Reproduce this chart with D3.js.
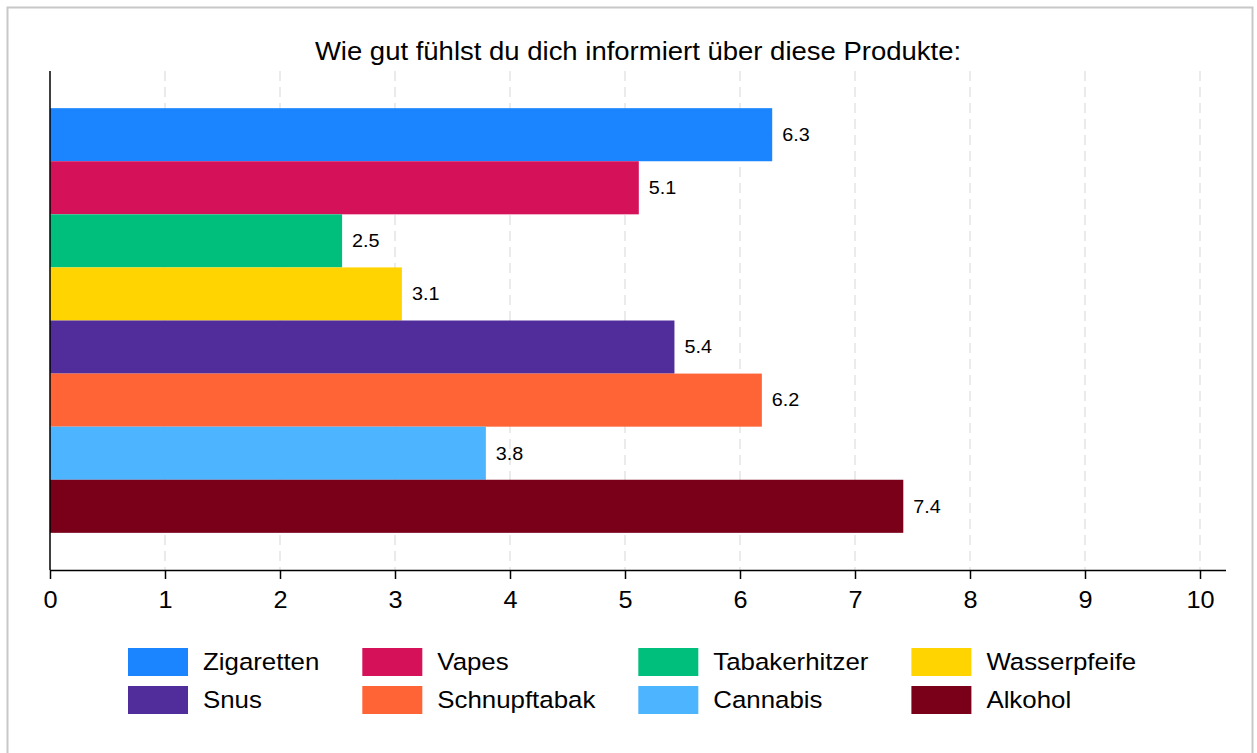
<!DOCTYPE html>
<html>
<head>
<meta charset="utf-8">
<script src="https://cdn.jsdelivr.net/npm/d3@7"></script>
<style>
  body { margin: 0; background: #fff; }
  svg { display: block; font-family: "Liberation Sans", Arial, sans-serif; }
</style>
</head>
<body>
<svg id="main-svg" width="1257" height="753"></svg>
<script>
// data
let products = ["Zigaretten", "Vapes", "Tabakerhitzer", "Wasserpfeife", "Snus", "Schnupftabak", "Cannabis", "Alkohol"];
let scores = [6.28, 5.12, 2.54, 3.06, 5.43, 6.19, 3.79, 7.42];
let colors = ["#1a85ff", "#d41159", "#00bf7d", "#ffd400", "#512d9b", "#ff6437", "#4db4ff", "#7a0019"];
let xTicks = [0, 1, 2, 3, 4, 5, 6, 7, 8, 9, 10];
let title = "Wie gut fühlst du dich informiert über diese Produkte:";

let svg = d3.select("#main-svg");
let stretch = 1.1; // text in the original is a little wider than Liberation Sans

// outer frame
svg.append("rect")
    .attr("x", 7.5).attr("y", 7.5)
    .attr("width", 1245).attr("height", 770)
    .attr("fill", "none")
    .attr("stroke", "#c8c8c8")
    .attr("stroke-width", 2);

let plotLeft = 50, plotRight = 1226, plotTop = 71, plotBottom = 570;

let x = d3.scaleLinear().domain([0, 10]).range([plotLeft, plotLeft + 1150]);
let y = d3.scaleBand().domain(products).range([plotTop, plotBottom]).paddingInner(0).paddingOuter(0.7);

// grid lines
svg.append("g")
    .selectAll("line")
    .data(xTicks.filter(d => d > 0))
    .enter().append("line")
    .attr("x1", d => x(d)).attr("x2", d => x(d))
    .attr("y1", plotTop).attr("y2", plotBottom)
    .attr("stroke", "#ebebeb")
    .attr("stroke-width", 2)
    .attr("stroke-dasharray", "10,6");

// bars
svg.append("g")
    .selectAll("rect")
    .data(products)
    .enter().append("rect")
    .attr("x", x(0))
    .attr("y", d => y(d))
    .attr("width", (d, i) => x(scores[i]) - x(0))
    .attr("height", y.bandwidth())
    .attr("fill", (d, i) => colors[i]);

// value labels
svg.append("g")
    .selectAll("text")
    .data(products)
    .enter().append("text")
    .attr("transform", (d, i) => "translate(" + (x(scores[i]) + 10) + "," + (y(d) + y.bandwidth() / 2) + ") scale(" + stretch + ",1)")
    .attr("dy", "0.35em")
    .attr("font-size", 18)
    .attr("fill", "#000")
    .text((d, i) => d3.format(".1f")(scores[i]));

// x axis
let xAxis = svg.append("g")
    .attr("transform", "translate(0," + plotBottom + ")")
    .call(d3.axisBottom(x).tickValues(xTicks).tickSize(9).tickPadding(13).tickFormat(d3.format("d")));
xAxis.select(".domain").attr("d", "M" + plotLeft + ",0.5H" + plotRight).attr("stroke", "#000").attr("stroke-width", 1.5);
xAxis.selectAll(".tick line").attr("stroke-width", 1.5);
xAxis.selectAll(".tick text")
    .attr("font-size", 23)
    .attr("font-family", "Liberation Sans, Arial, sans-serif")
    .attr("transform", "scale(" + stretch + ",1)");

// y axis line
svg.append("line")
    .attr("x1", plotLeft).attr("x2", plotLeft)
    .attr("y1", plotTop).attr("y2", plotBottom)
    .attr("stroke", "#000").attr("stroke-width", 1.5);

// title
svg.append("text")
    .attr("transform", "translate(" + ((plotLeft + plotRight) / 2) + ",60) scale(" + stretch + ",1)")
    .attr("text-anchor", "middle")
    .attr("font-size", 25)
    .text(title);

// legend, 4 columns x 2 rows, column width from widest label
let legend = svg.append("g");
let nCols = 4, swW = 60, swH = 28, textGap = 15, colGap = 43, rowStep = 38;
let items = legend.selectAll("g.item")
    .data(products)
    .enter().append("g").attr("class", "item");
items.append("rect")
    .attr("width", swW).attr("height", swH)
    .attr("fill", (d, i) => colors[i]);
items.append("text")
    .attr("transform", "translate(" + (swW + textGap) + "," + (swH / 2) + ") scale(" + stretch + ",1)")
    .attr("dy", "0.35em")
    .attr("font-size", 23.5)
    .text(d => d);

let colWidths = [];
items.each(function (d, i) {
    let c = i % nCols;
    let w = d3.select(this).select("text").node().getComputedTextLength() * stretch;
    colWidths[c] = Math.max(colWidths[c] || 0, w);
});
let colX = [0];
for (let c = 1; c < nCols; c++) {
    colX[c] = colX[c - 1] + swW + textGap + colWidths[c - 1] + colGap;
}
items.attr("transform", (d, i) => "translate(" + colX[i % nCols] + "," + Math.floor(i / nCols) * rowStep + ")");
legend.attr("transform", "translate(128,648)");
</script>
</body>
</html>
